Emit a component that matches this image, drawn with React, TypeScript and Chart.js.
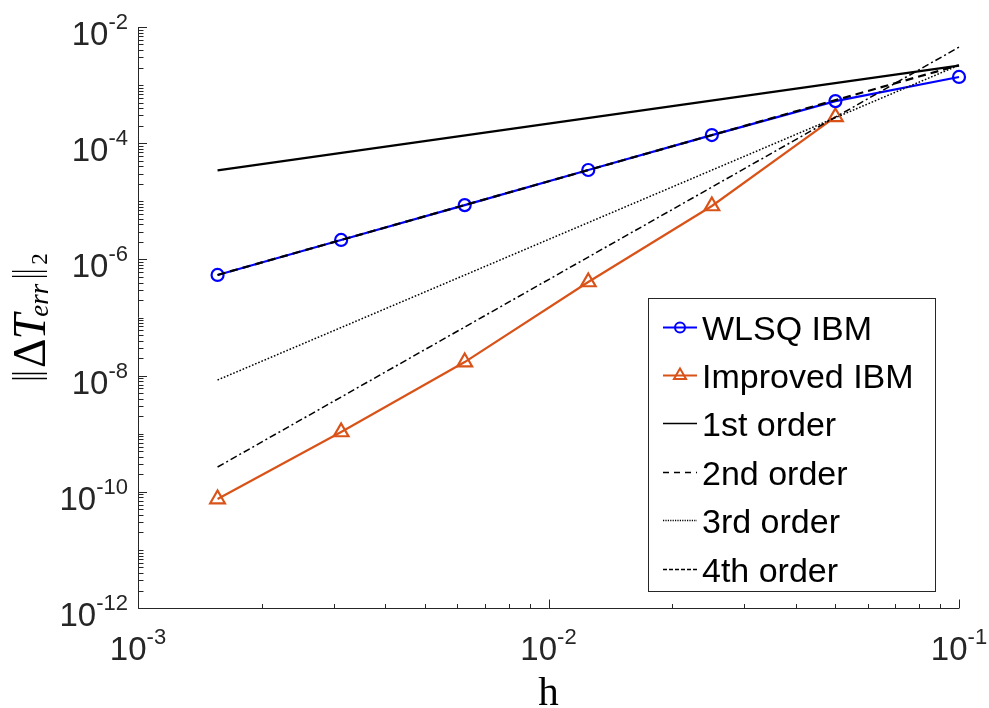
import React, { useEffect, useRef } from "react";
import { Chart, registerables } from "chart.js";

Chart.register(...registerables);

// Mesh spacing and L2 error norms
const hValues = [0.0015625, 0.003125, 0.00625, 0.0125, 0.025, 0.05, 0.1];
const wlsqErr = [5.4e-7, 2.16e-6, 8.6e-6, 3.46e-5, 1.38e-4, 5.3e-4, 1.38e-3];
const improvedH = [0.0015625, 0.003125, 0.00625, 0.0125, 0.025, 0.05];
const improvedErr = [7.5e-11, 1.07e-9, 1.71e-8, 4.08e-7, 8.3e-6, 2.83e-4];

// Reference slopes, given by their end values
const refH = [0.0015625, 0.1];
const firstOrder = [3.4e-5, 2.17e-3];
const secondOrder = [5.4e-7, 2.2e-3];
const thirdOrder = [8.4e-9, 2.2e-3];
const fourthOrder = [2.67e-10, 4.5e-3];

const seriesLabels = ["WLSQ IBM", "Improved IBM", "1st order", "2nd order", "3rd order", "4th order"];
const xTickExponents = [-3, -2, -1];
const yTickExponents = [-2, -4, -6, -8, -10, -12];

const AXIS_COLOR = "#262626";
const SANS = "'Liberation Sans', Arial, Helvetica, sans-serif";
const SERIF = "'Liberation Serif', 'Times New Roman', serif";

const pts = (xs: number[], ys: number[]) => xs.map((x, i) => ({ x, y: ys[i] }));

function drawPow10(ctx: CanvasRenderingContext2D, exp: number, anchorX: number, baseY: number, align: "center" | "right") {
  const base = "10";
  const sup = String(exp);
  ctx.font = `33px ${SANS}`;
  const wb = ctx.measureText(base).width;
  ctx.font = `22px ${SANS}`;
  const ws = ctx.measureText(sup).width;
  const total = wb + ws;
  const x0 = align === "center" ? anchorX - total / 2 : anchorX - total;
  ctx.textAlign = "left";
  ctx.textBaseline = "alphabetic";
  ctx.fillStyle = AXIS_COLOR;
  ctx.font = `33px ${SANS}`;
  ctx.fillText(base, x0, baseY);
  ctx.font = `22px ${SANS}`;
  ctx.fillText(sup, x0 + wb, baseY - 16);
}

const axesPlugin = {
  id: "matlabAxes",
  afterDraw(chart: any) {
    const { ctx, chartArea, scales } = chart;
    const { left, right, top, bottom } = chartArea;
    const xs = scales.x;
    const ys = scales.y;
    const L = Math.round(left) + 0.5;
    const B = Math.round(bottom) + 0.5;
    ctx.save();
    ctx.strokeStyle = AXIS_COLOR;
    ctx.lineWidth = 1;
    ctx.setLineDash([]);
    ctx.beginPath();
    ctx.moveTo(L, top);
    ctx.lineTo(L, B);
    ctx.lineTo(right, B);
    ctx.stroke();

    // x ticks (inward)
    ctx.beginPath();
    for (let e = -3; e <= -1; e++) {
      for (let k = 1; k <= 9; k++) {
        const v = k * Math.pow(10, e);
        if (v > xs.max * 1.0001) break;
        const px = Math.round(xs.getPixelForValue(v)) + 0.5;
        const len = k === 1 ? 9 : 4.5;
        ctx.moveTo(px, B);
        ctx.lineTo(px, B - len);
      }
    }
    // y ticks (inward)
    for (let e = -12; e <= -2; e++) {
      for (let k = 1; k <= 9; k++) {
        const v = k * Math.pow(10, e);
        if (v > ys.max * 1.0001) break;
        const py = Math.round(ys.getPixelForValue(v)) + 0.5;
        const len = k === 1 && e % 2 === 0 ? 8.5 : 5;
        ctx.moveTo(L, py);
        ctx.lineTo(L + len, py);
      }
    }
    ctx.stroke();

    // tick labels
    for (const e of xTickExponents) {
      const px = xs.getPixelForValue(Math.pow(10, e));
      drawPow10(ctx, e, px, bottom + 52, "center");
    }
    for (const e of yTickExponents) {
      const py = ys.getPixelForValue(Math.pow(10, e));
      drawPow10(ctx, e, 128, py + 18, "right");
    }

    // x axis title
    ctx.fillStyle = "#000";
    ctx.font = `41px ${SERIF}`;
    ctx.textAlign = "center";
    ctx.fillText("h", (left + right) / 2, 705);

    // y axis title: ||ΔT_err||_2, rotated
    ctx.save();
    ctx.translate(45, 380);
    ctx.rotate(-Math.PI / 2);
    ctx.textAlign = "left";
    ctx.textBaseline = "alphabetic";
    ctx.strokeStyle = "#000";
    ctx.lineWidth = 1.4;
    const bars = (x: number) => {
      ctx.beginPath();
      ctx.moveTo(x + 1.5, -33);
      ctx.lineTo(x + 1.5, 2);
      ctx.moveTo(x + 6.5, -33);
      ctx.lineTo(x + 6.5, 2);
      ctx.stroke();
    };
    let cx = 0;
    bars(cx);
    cx += 12;
    ctx.font = `46px ${SERIF}`;
    ctx.fillText("Δ", cx, 0);
    cx += ctx.measureText("Δ").width - 1;
    ctx.font = `italic 46px ${SERIF}`;
    ctx.fillText("T", cx, 0);
    cx += ctx.measureText("T").width - 3;
    ctx.font = `italic 27px ${SERIF}`;
    ctx.fillText("err", cx, 3);
    cx += ctx.measureText("err").width + 6;
    bars(cx);
    cx += 13;
    ctx.font = `23px ${SERIF}`;
    ctx.fillText("2", cx, 2);
    ctx.restore();

    ctx.restore();
  },
};

const legendPlugin = {
  id: "insideLegend",
  afterDraw(chart: any) {
    const { ctx } = chart;
    const datasets = chart.data.datasets;
    ctx.save();
    ctx.fillStyle = "#fff";
    ctx.fillRect(648.5, 298.5, 287, 293);
    ctx.strokeStyle = AXIS_COLOR;
    ctx.lineWidth = 1;
    ctx.setLineDash([]);
    ctx.strokeRect(648.5, 298.5, 287, 293);

    datasets.forEach((ds: any, i: number) => {
      const y = Math.round(326.5 + i * 48.4) + 0.5;
      ctx.strokeStyle = ds.borderColor;
      ctx.lineWidth = ds.legendLineWidth ?? ds.borderWidth;
      ctx.setLineDash(ds.legendDash || ds.borderDash || []);
      ctx.beginPath();
      ctx.moveTo(663, y);
      ctx.lineTo(697, y);
      ctx.stroke();
      ctx.setLineDash([]);
      if (ds.pointRadius > 0) {
        ctx.lineWidth = 2;
        ctx.beginPath();
        if (ds.pointStyle === "triangle") {
          const r = 7;
          ctx.moveTo(680, y - r);
          ctx.lineTo(680 + r * 0.866, y + r * 0.5);
          ctx.lineTo(680 - r * 0.866, y + r * 0.5);
          ctx.closePath();
        } else {
          ctx.arc(680, y, 5, 0, Math.PI * 2);
        }
        ctx.stroke();
      }
      ctx.fillStyle = "#000";
      ctx.font = `34px ${SANS}`;
      ctx.textAlign = "left";
      ctx.textBaseline = "alphabetic";
      ctx.fillText(ds.label, 702, y + 12);
    });
    ctx.restore();
  },
};

export default function App() {
  const canvasRef = useRef<HTMLCanvasElement | null>(null);

  useEffect(() => {
    const canvas = canvasRef.current;
    if (!canvas) return;
    const refLine = (label: string, ys: number[], width: number, dash: number[], legendDash?: number[]) => ({
      label,
      data: pts(refH, ys),
      borderColor: "#000000",
      backgroundColor: "#000000",
      borderWidth: width,
      borderDash: dash,
      legendDash,
      legendLineWidth: Math.min(width, 1.5),
      pointRadius: 0,
      showLine: true,
      clip: false,
      order: 0,
    });
    const chart = new Chart(canvas, {
      type: "scatter",
      data: {
        datasets: [
          {
            label: seriesLabels[0],
            data: pts(hValues, wlsqErr),
            borderColor: "#0000FF",
            backgroundColor: "rgba(0,0,0,0)",
            borderWidth: 2.2,
            pointStyle: "circle",
            pointRadius: 6,
            pointBorderWidth: 2.2,
            pointBackgroundColor: "rgba(0,0,0,0)",
            pointBorderColor: "#0000FF",
            showLine: true,
            clip: false,
            order: 1,
          },
          {
            label: seriesLabels[1],
            data: pts(improvedH, improvedErr),
            borderColor: "#D95319",
            backgroundColor: "rgba(0,0,0,0)",
            borderWidth: 2.2,
            pointStyle: "triangle",
            pointRadius: 8.5,
            pointBorderWidth: 2.2,
            pointBackgroundColor: "rgba(0,0,0,0)",
            pointBorderColor: "#D95319",
            showLine: true,
            clip: false,
            order: 1,
          },
          refLine(seriesLabels[2], firstOrder, 2.2, []),
          refLine(seriesLabels[3], secondOrder, 2.2, [8, 5], [6, 5]),
          refLine(seriesLabels[4], thirdOrder, 1.5, [1.6, 1.8], [1.2, 1.2]),
          refLine(seriesLabels[5], fourthOrder, 1.5, [7, 3, 2, 3], [4, 2]),
        ] as any,
      },
      options: {
        responsive: false,
        animation: false,
        devicePixelRatio: 1,
        events: [],
        layout: { padding: { left: 138, top: 27, right: 30, bottom: 100 } },
        plugins: { legend: { display: false }, tooltip: { enabled: false } },
        scales: {
          x: { type: "logarithmic", min: 1e-3, max: 1e-1, display: false },
          y: { type: "logarithmic", min: 1e-12, max: 1e-2, display: false },
        },
      },
      plugins: [axesPlugin, legendPlugin],
    });
    return () => chart.destroy();
  }, []);

  return (
    <div style={{ position: "absolute", left: 0, top: 0, width: 989, height: 708, background: "#fff" }}>
      <canvas ref={canvasRef} width={989} height={708} style={{ width: 989, height: 708, display: "block" }} />
    </div>
  );
}
